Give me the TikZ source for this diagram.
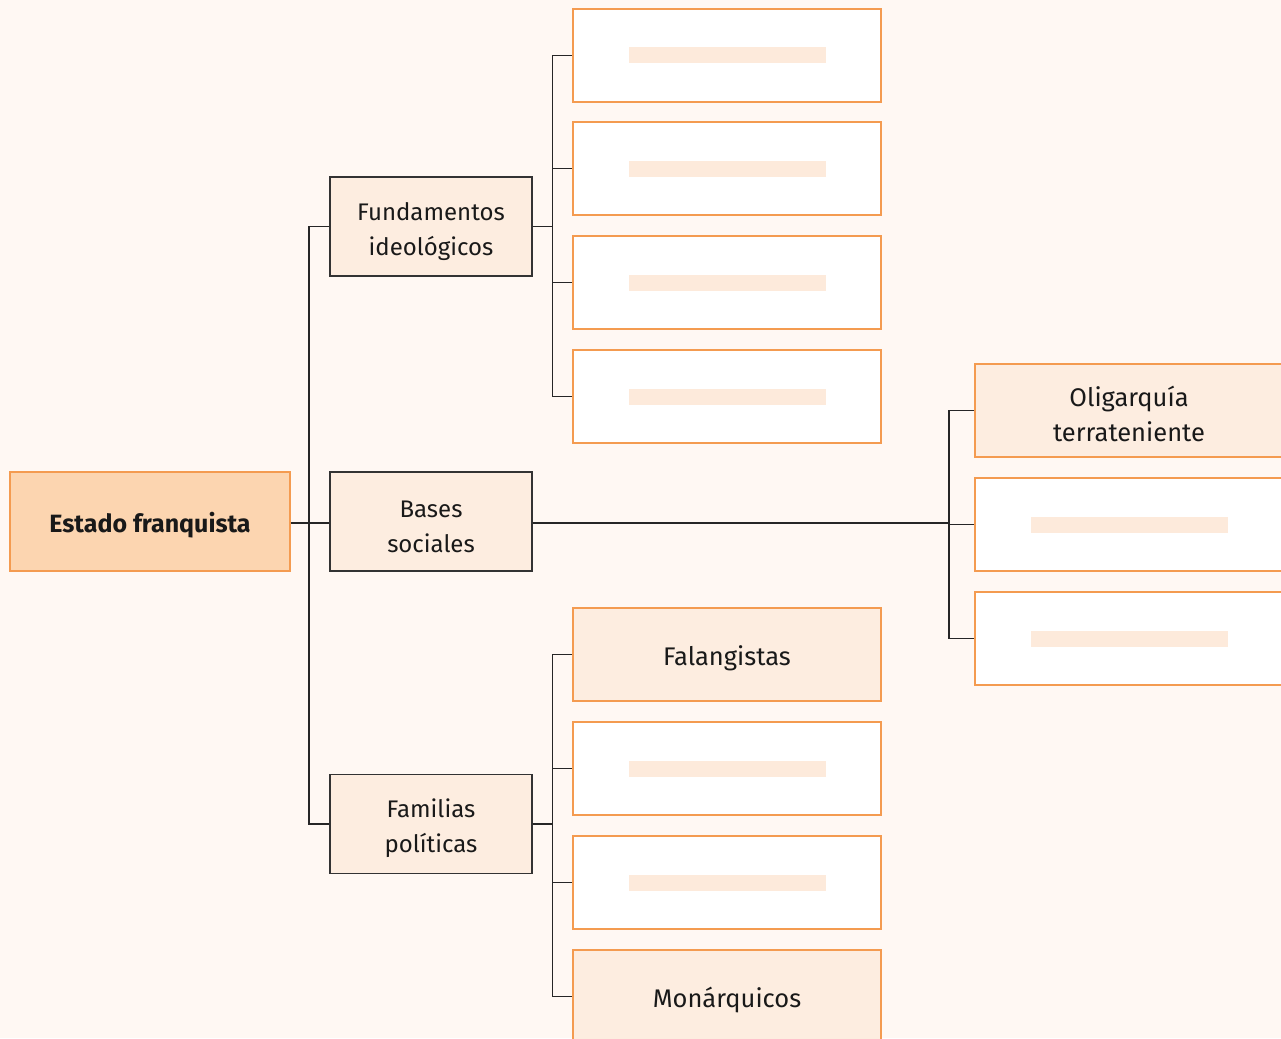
\documentclass[tikz,border=0pt]{standalone}
\usepackage{fontspec}
\setmainfont{Fira Sans}
\definecolor{bgcream}{HTML}{FFF8F3}
\definecolor{rootfill}{HTML}{FCD5B0}
\definecolor{boxfill}{HTML}{FDEDE0}
\definecolor{boxline}{HTML}{F49B50}
\definecolor{barfill}{HTML}{FDEADB}
\definecolor{midline}{HTML}{333333}
% sets the text a little lower in its box
\newcommand{\lowstrut}{\rule{0pt}{28pt}}

\begin{document}
\begin{tikzpicture}
  [x=1pt,y=-1pt,
   every node/.style={rectangle,align=center,text=black!90,inner sep=0pt},
   rootbox/.style={draw=boxline,fill=rootfill,line width=1.3pt,minimum width=280pt,minimum height=99pt,font=\fontsize{25}{35}\selectfont\bfseries},
   midbox/.style={draw=midline,fill=boxfill,line width=1.3pt,minimum width=202pt,minimum height=99pt,font=\fontsize{24}{35}\selectfont},
   leafbox/.style={draw=boxline,fill=white,line width=1.3pt,minimum width=308pt,minimum height=93pt,font=\fontsize{25.5}{35}\selectfont},
   textleaf/.style={leafbox,fill=boxfill},
   link/.style={draw=black!85,line width=1.2pt}]

  \fill[bgcream] (0,0) rectangle (1281,1038);
  \clip (0,0) rectangle (1281,1038);

  \node[rootbox] (root) at (150,521.5) {\lowstrut Estado franquista};

  \node[midbox] (fund) at (431,226.5) {\lowstrut Fundamentos\\ideológicos};
  \node[midbox] (bases) at (431,521.5) {\lowstrut Bases\\sociales};
  \node[midbox] (fam) at (431,824) {\lowstrut Familias\\políticas};

  \node[leafbox] (f1) at (727,55.5) {};
  \node[leafbox] (f2) at (727,168.5) {};
  \node[leafbox] (f3) at (727,282.5) {};
  \node[leafbox] (f4) at (727,396.5) {};

  \node[textleaf] (b1) at (1129,410.5) {\lowstrut Oligarquía\\terrateniente};
  \node[leafbox] (b2) at (1129,524.5) {};
  \node[leafbox] (b3) at (1129,638.5) {};

  \node[textleaf] (p1) at (727,654.5) {\lowstrut Falangistas};
  \node[leafbox] (p2) at (727,768.5) {};
  \node[leafbox] (p3) at (727,882.5) {};
  \node[textleaf] (p4) at (727,996.5) {\lowstrut Monárquicos};

  % empty answer bars
  \foreach \n in {f1,f2,f3,f4,b2,b3,p2,p3}
    \fill[barfill] ([shift={(-98pt,-8pt)}]\n.center) rectangle ([shift={(99pt,8pt)}]\n.center);

  \coordinate (trunk) at (309,523);
  \draw[link] (root.east |- trunk) -- (bases.west |- trunk);
  \draw[link] (trunk) |- (fund.west);
  \draw[link] (trunk) |- (fam.west);

  \foreach \to in {f1,f2,f3,f4}
    \draw[link] (fund.east) -- ++(20,0) |- (\to.west);
  \foreach \to in {p1,p2,p3,p4}
    \draw[link] (fam.east) -- ++(20,0) |- (\to.west);
  \foreach \to in {b1,b2,b3}
    \draw[link] (bases.east |- trunk) -- (949,523) |- (\to.west);

\end{tikzpicture}
\end{document}
